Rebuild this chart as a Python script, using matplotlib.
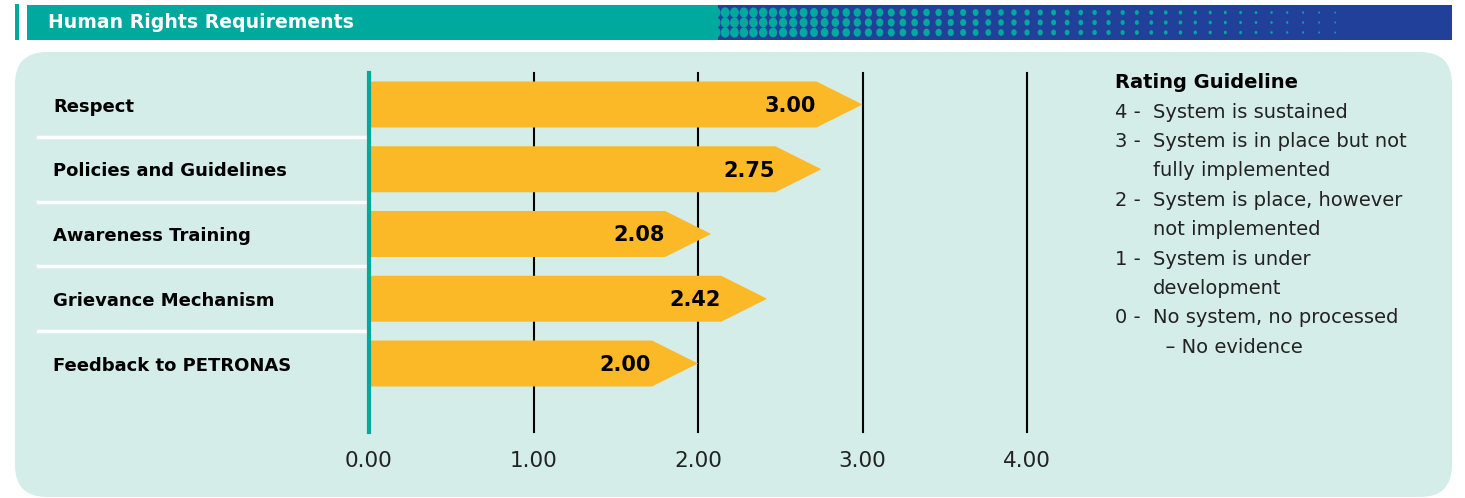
import matplotlib
matplotlib.use("Agg")
import matplotlib.pyplot as plt
import numpy as np
from matplotlib.patches import FancyBboxPatch, Polygon, Rectangle, Ellipse
from matplotlib import transforms

# данные
categories = ["Respect", "Policies and Guidelines", "Awareness Training",
              "Grievance Mechanism", "Feedback to PETRONAS"]
scores = [3.00, 2.75, 2.08, 2.42, 2.00]
x_ticks = [0, 1, 2, 3, 4]
x_tick_labels = ["0.00", "1.00", "2.00", "3.00", "4.00"]

guide_title = "Rating Guideline"
guide_nums = ["4 -", "3 -", "", "2 -", "", "1 -", "", "0 -", ""]
guide_texts = ["System is sustained", "System is in place but not", "fully implemented",
               "System is place, however", "not implemented", "System is under",
               "development", "No system, no processed", "  \u2013 No evidence"]

header = "Human Rights Requirements"

TEAL = "#00A99D"
BLUE = "#21409A"
PANEL = "#D4EDE9"
ORANGE = "#FBB827"

W, H = 1465, 498
fig = plt.figure(figsize=(W / 100, H / 100), dpi=100)
fig.patch.set_facecolor("white")

# фон и шапка в пикселях
bg = fig.add_axes([0, 0, 1, 1], zorder=0)
bg.set_xlim(0, W)
bg.set_ylim(H, 0)
bg.axis("off")

r = 32
bg.add_patch(FancyBboxPatch((15 + r, 52 + r), 1437 - 2 * r, 445 - 2 * r,
                            boxstyle=f"round,pad={r}", fc=PANEL, ec="none"))
bg.add_patch(Rectangle((15, 4), 4, 36, fc=TEAL, ec="none"))
bg.add_patch(Rectangle((27, 5), 700, 35, fc=TEAL, ec="none"))
bg.add_patch(Rectangle((718, 5), 1452 - 718, 35, fc=BLUE, ec="none"))

# точки градиента
gaps = np.linspace(9, 17, 56)
dot_x = 716 + np.cumsum(gaps) - gaps[0]
dot_x = dot_x[dot_x < 1350]
frac = (dot_x - dot_x[0]) / (dot_x[-1] - dot_x[0])
dot_h = 10.5 - 8.5 * frac
dot_w = 9 - 7.3 * frac
for yy in [12.5, 22.5, 32.5]:
    for xx, ww, hh in zip(dot_x, dot_w, dot_h):
        bg.add_patch(Ellipse((xx, yy), ww, hh, fc=TEAL, ec="none"))

bg.text(48, 22.5, header, color="white", fontsize=13.6, fontweight="bold",
        ha="left", va="center")

# легенда
bg.text(1115, 82, guide_title, fontsize=14, fontweight="bold", color="black",
        ha="left", va="center")
for k, (n, t) in enumerate(zip(guide_nums, guide_texts)):
    yy = 112 + 29.4 * k
    bg.text(1115, yy, n, fontsize=14, color="#222222", ha="left", va="center")
    bg.text(1153, yy, t, fontsize=14, color="#222222", ha="left", va="center")

# основной график
x0, x4 = 369, 1027
top, bot = 73, 432
ax = fig.add_axes([x0 / W, 1 - bot / H, (x4 - x0) / W, (bot - top) / H], zorder=1)
ax.patch.set_alpha(0)
pitch = 64.75
c0 = 104.5
ax.set_xlim(0, 4)
ax.set_ylim((bot - c0) / pitch, (top - c0) / pitch)
for s in ax.spines.values():
    s.set_visible(False)

for gx in x_ticks[1:]:
    ax.axvline(gx, color="black", lw=1.5, zorder=1, clip_on=False)

bar_h = 46 / pitch
tip = 46 / ((x4 - x0) / 4)
for i, v in enumerate(scores):
    pts = [(0, i - bar_h / 2), (v - tip, i - bar_h / 2), (v, i),
           (v - tip, i + bar_h / 2), (0, i + bar_h / 2)]
    ax.add_patch(Polygon(pts, closed=True, fc=ORANGE, ec="none", zorder=2))
    ax.text(v - tip - 0.005, i + 0.02, f"{v:.2f}", ha="right", va="center",
            fontsize=15, fontweight="bold", color="black", zorder=3)

ax.axvline(0, color=TEAL, lw=3, zorder=4, clip_on=False)

# белые разделители
blend = transforms.blended_transform_factory(fig.transFigure, ax.transData)
for i in range(len(categories) - 1):
    ax.plot([38 / W, x0 / W], [i + 0.5, i + 0.5], color="white", lw=2.5,
            transform=blend, clip_on=False, zorder=1)

ax.set_xticks(x_ticks)
ax.set_xticklabels(x_tick_labels, fontsize=15.5, color="#222222")
ax.tick_params(axis="x", length=0, pad=14)
ax.set_yticks(range(len(categories)))
ax.set_yticklabels(categories, fontsize=13, fontweight="bold", ha="left")
ax.tick_params(axis="y", length=0, pad=(x0 - 53) * 0.72)

fig.savefig("out.png", dpi=100)
